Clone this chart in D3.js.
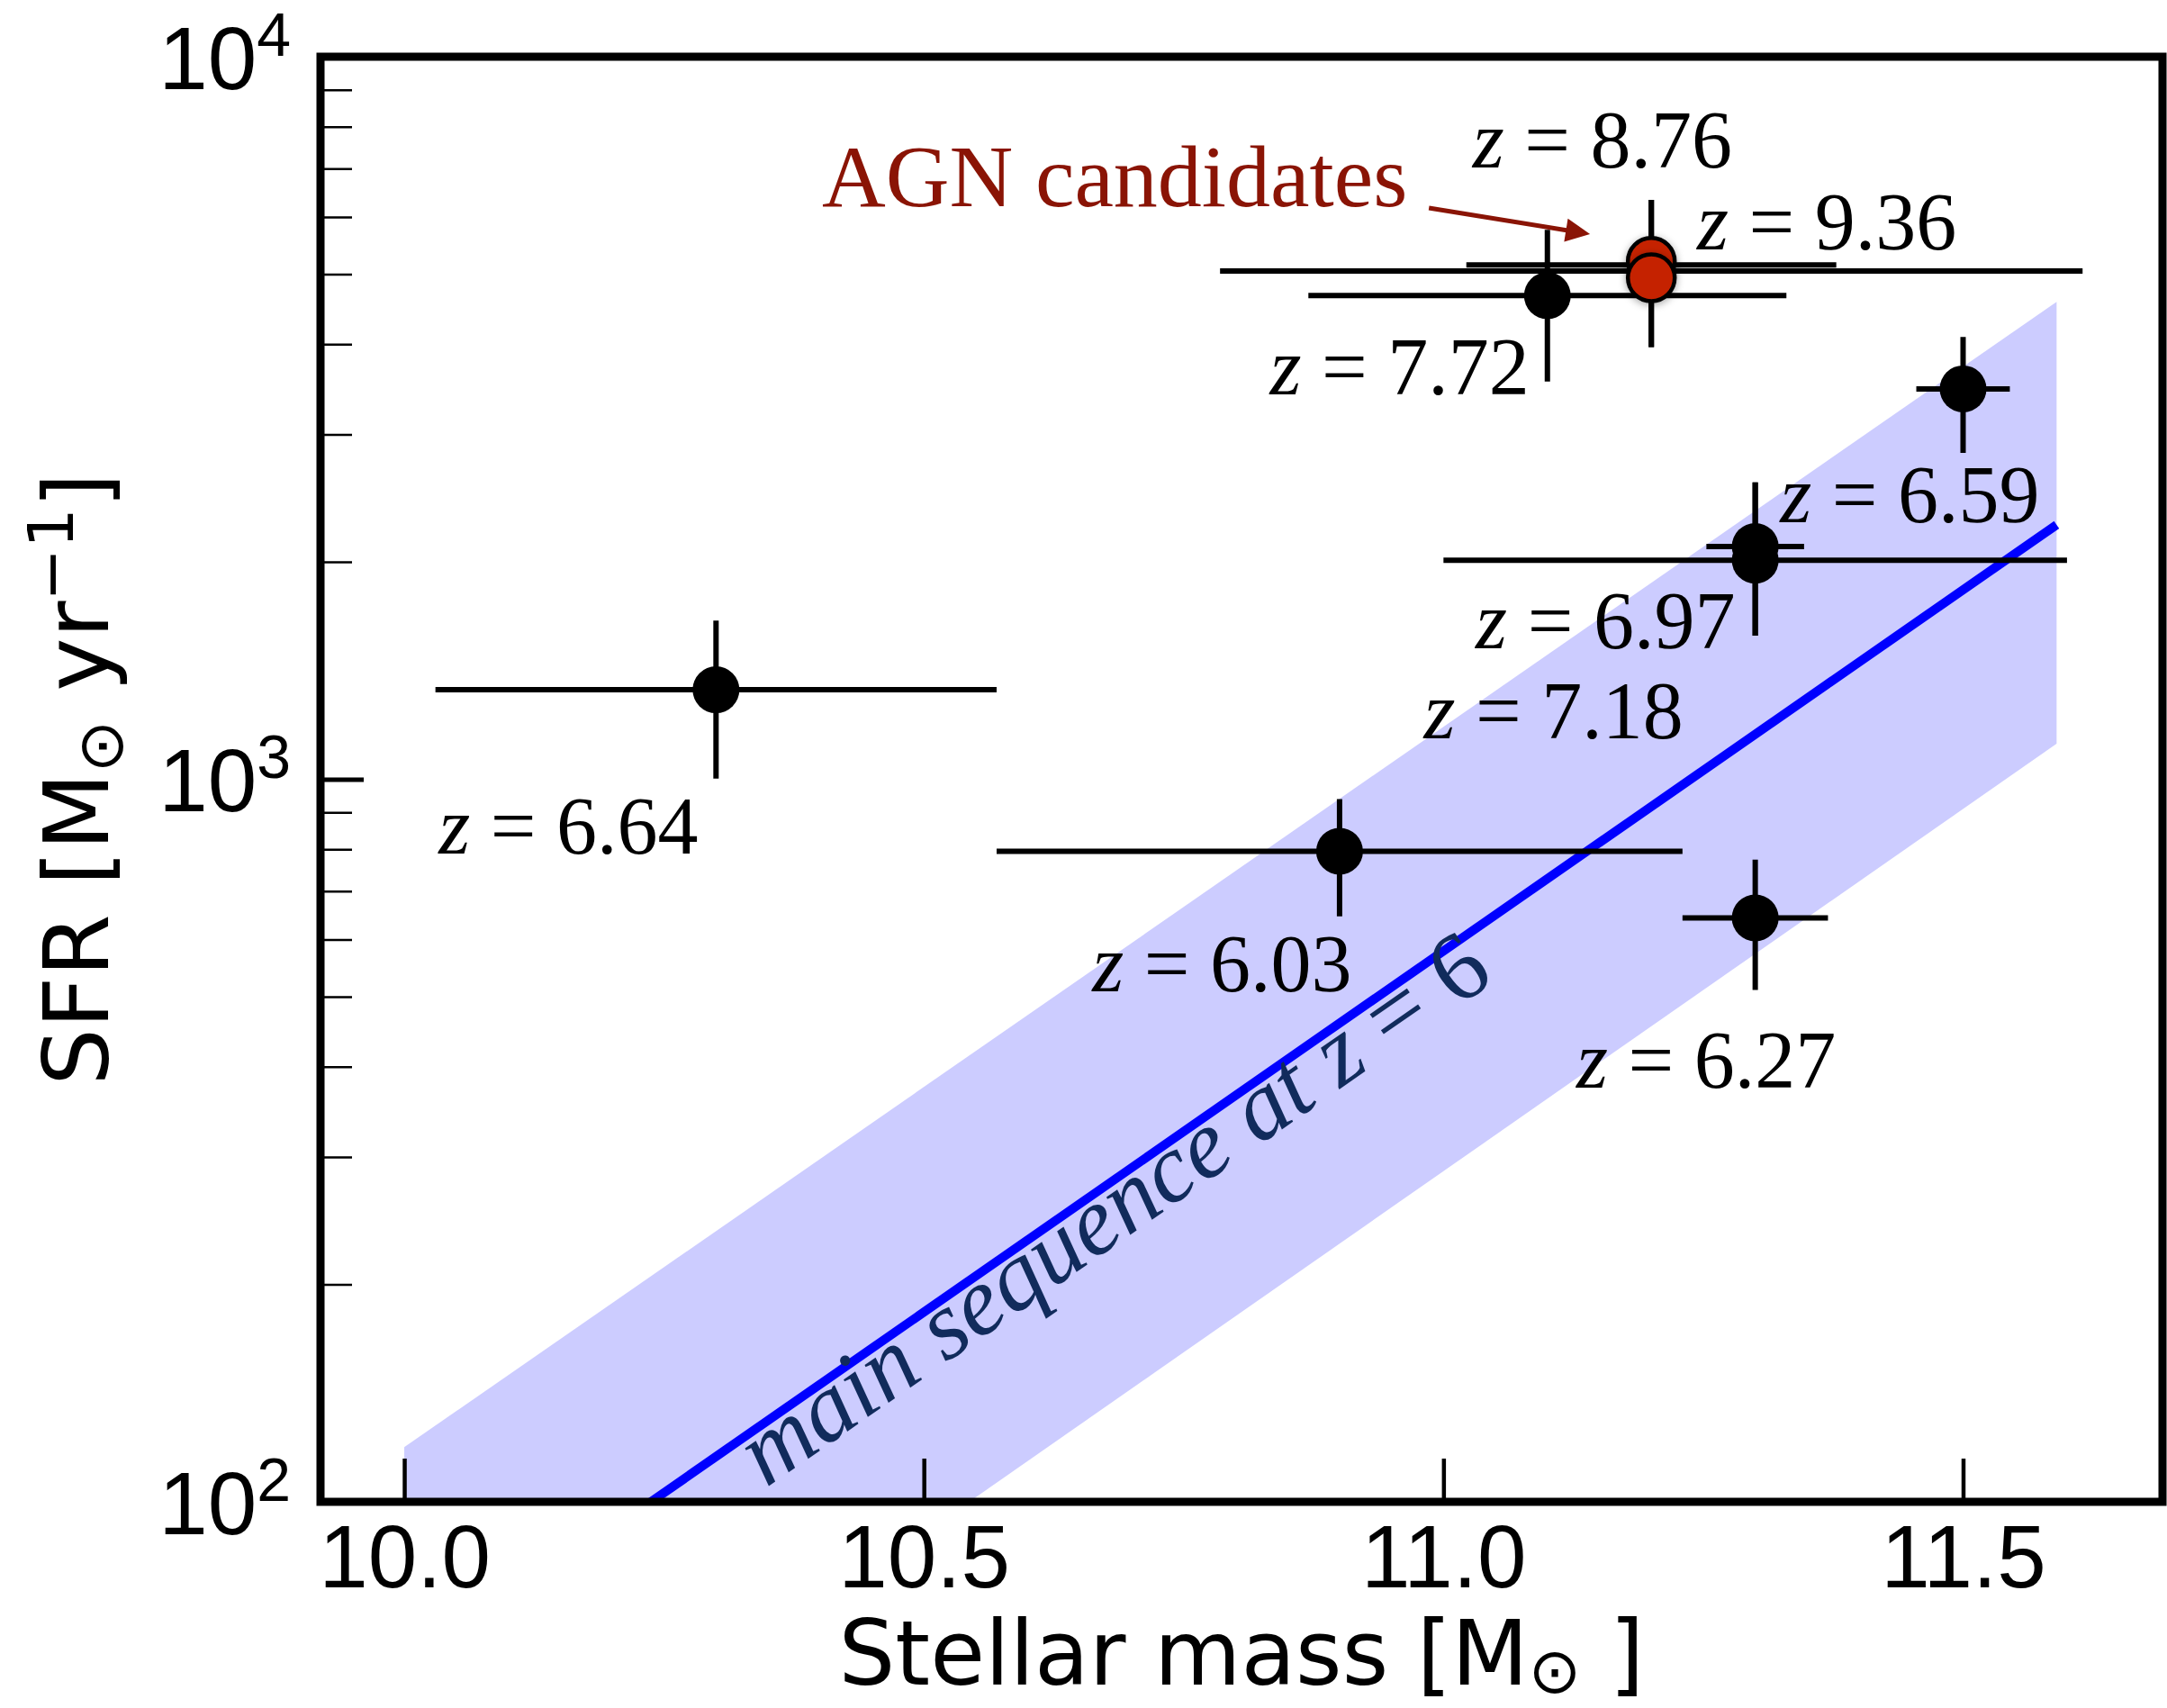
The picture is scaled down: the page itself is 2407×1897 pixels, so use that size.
<!DOCTYPE html>
<html>
<head>
<meta charset="utf-8">
<script src="https://cdn.jsdelivr.net/npm/d3@7"></script>
<style>
  html, body { margin: 0; padding: 0; background: #ffffff; }
  svg { display: block; }
  text { white-space: pre; }
</style>
</head>
<body>
<svg id="chart" width="2407" height="1897"></svg>
<script>
// ---- Galaxy measurements (one entry per source) ----
const redshiftLabels = ["6.64", "6.03", "6.27", "6.59", "6.97", "7.18", "7.72", "8.76", "9.36"];
const stellarMass    = [10.30, 10.90, 11.30, 11.30, 11.30, 11.50, 11.10, 11.20, 11.20];
const sfr            = [1330, 795, 643, 2100, 2010, 3470, 4670, 5150, 5050];
const markerSFR      = [1330, 795, 643, 2100, 2010, 3470, 4670, 5210, 4945];
const massErr        = [0.27, 0.33, 0.07, 0.047, 0.30, 0.045, 0.23, 0.178, 0.415];
const sfrLow         = [1002, 646, 511, 1580, 1580, 2830, 3553, 3963, 3963];
const sfrHigh        = [1658, 939, 774, 2575, 2575, 4093, 5759, 6339, 6339];
const isAGN          = [false, false, false, false, false, false, false, true, true];

// Where each redshift annotation sits (data coordinates of the text start)
const labelMass = [10.033, 10.662, 11.128, 11.324, 11.031, 10.981, 10.833, 11.028, 11.244];
const labelSFR  = [789, 509, 374, 2269, 1518, 1139, 3409, 7025, 5412];

// Main sequence at z = 6: centre line and its scatter band
const msMass = [10.0, 11.59];
const msSFR  = [57.9, 2250];
const msLow  = [28.5, 1120];
const msHigh = [119, 4580];

// Axis ticks
const xTicks = [10.0, 10.5, 11.0, 11.5];
const yMajor = [100, 1000, 10000];
const yMinor = [200, 300, 400, 500, 600, 700, 800, 900, 2000, 3000, 4000, 5000, 6000, 7000, 8000, 9000];

// AGN call-out
const agnText = "AGN candidates";
const agnTextAt = [10.402, 6210];
const agnArrowFrom = [10.986, 6176];
const agnArrowTo = [11.141, 5683];

// ---- Layout ----
const svg = d3.select("#chart");
const plot = { left: 356, right: 2402, top: 63, bottom: 1668 };

const x = d3.scaleLinear().domain([9.9194, 11.6919]).range([plot.left, plot.right]);
const y = d3.scaleLog().domain([100, 10000]).range([plot.bottom, plot.top]);

const defs = svg.append("defs");
defs.append("clipPath").attr("id", "plot-clip")
  .append("rect")
  .attr("x", plot.left).attr("y", plot.top)
  .attr("width", plot.right - plot.left).attr("height", plot.bottom - plot.top);

const shadow = defs.append("filter").attr("id", "soft-shadow")
  .attr("x", "-50%").attr("y", "-50%").attr("width", "200%").attr("height", "200%");
shadow.append("feDropShadow")
  .attr("dx", 0).attr("dy", 2).attr("stdDeviation", 4)
  .attr("flood-color", "#000").attr("flood-opacity", 0.35);

const inner = svg.append("g").attr("clip-path", "url(#plot-clip)");

// Scatter band of the main sequence
const band = msMass.map((m, i) => ({ m, lo: msLow[i], hi: msHigh[i] }));
inner.append("path")
  .datum(band)
  .attr("fill", "#ccccff")
  .attr("stroke", "none")
  .attr("d", d3.area().x(d => x(d.m)).y0(d => y(d.lo)).y1(d => y(d.hi)));

// Main sequence line
const msLine = msMass.map((m, i) => ({ m, s: msSFR[i] }));
inner.append("path")
  .datum(msLine)
  .attr("fill", "none")
  .attr("stroke", "#0000ff")
  .attr("stroke-width", 10)
  .attr("d", d3.line().x(d => x(d.m)).y(d => y(d.s)));

// Label running along (just below) the main sequence line
const msAngle = Math.atan2(y(msSFR[1]) - y(msSFR[0]), x(msMass[1]) - x(msMass[0])) * 180 / Math.PI;
const msLabelX = x(10.348), msLabelY = y(104.5);
const msText = svg.append("text")
  .attr("transform", `translate(${msLabelX},${msLabelY}) rotate(${msAngle})`)
  .attr("font-family", "'Liberation Serif', 'Times New Roman', serif")
  .attr("font-style", "italic")
  .attr("font-size", 108)
  .attr("fill", "#112b5c");
msText.append("tspan").text("main sequence at ");
msText.append("tspan").text("z");
msText.append("tspan").attr("font-style", "normal").text(" = 6");

// ---- Error bars ----
const points = stellarMass.map((m, i) => ({
  m, s: sfr[i], ms: markerSFR[i], dm: massErr[i], lo: sfrLow[i], hi: sfrHigh[i], agn: isAGN[i]
}));

const bars = svg.append("g").attr("stroke", "#000").attr("stroke-width", 6);
bars.selectAll("line.xerr").data(points).join("line")
  .attr("class", "xerr")
  .attr("x1", d => x(d.m - d.dm)).attr("x2", d => x(d.m + d.dm))
  .attr("y1", d => y(d.s)).attr("y2", d => y(d.s));
bars.selectAll("line.yerr").data(points).join("line")
  .attr("class", "yerr")
  .attr("x1", d => x(d.m)).attr("x2", d => x(d.m))
  .attr("y1", d => y(d.lo)).attr("y2", d => y(d.hi));

// ---- Markers ----
svg.append("g").selectAll("circle").data(points.filter(d => !d.agn)).join("circle")
  .attr("cx", d => x(d.m)).attr("cy", d => y(d.ms))
  .attr("r", 26)
  .attr("fill", "#000");

svg.append("g").selectAll("circle").data(points.filter(d => d.agn)).join("circle")
  .attr("cx", d => x(d.m)).attr("cy", d => y(d.ms))
  .attr("r", 26)
  .attr("fill", "#c52306")
  .attr("stroke", "#000")
  .attr("stroke-width", 4.5)
  .attr("filter", "url(#soft-shadow)");

// ---- Redshift annotations ----
const labels = svg.append("g")
  .attr("font-family", "'Liberation Serif', 'Times New Roman', serif")
  .attr("font-size", 90)
  .attr("fill", "#000");
redshiftLabels.forEach((z, i) => {
  const t = labels.append("text").attr("x", x(labelMass[i])).attr("y", y(labelSFR[i]));
  t.append("tspan").attr("font-style", "italic").text("z");
  t.append("tspan").text(" = " + z);
});

// ---- AGN call-out ----
const agnColor = "#8a1405";
svg.append("text")
  .attr("x", x(agnTextAt[0])).attr("y", y(agnTextAt[1]))
  .attr("font-family", "'Liberation Serif', 'Times New Roman', serif")
  .attr("font-size", 98)
  .attr("fill", agnColor)
  .text(agnText);

{
  const x0 = x(agnArrowFrom[0]), y0 = y(agnArrowFrom[1]);
  const x1 = x(agnArrowTo[0]), y1 = y(agnArrowTo[1]);
  const len = Math.hypot(x1 - x0, y1 - y0);
  const ux = (x1 - x0) / len, uy = (y1 - y0) / len;
  const headLen = 27, headHalf = 13;
  const bx = x1 - ux * headLen, by = y1 - uy * headLen;
  svg.append("line")
    .attr("x1", x0).attr("y1", y0).attr("x2", bx + ux * 2).attr("y2", by + uy * 2)
    .attr("stroke", agnColor).attr("stroke-width", 5);
  svg.append("path")
    .attr("fill", agnColor)
    .attr("d", `M${x1},${y1}L${bx - uy * headHalf},${by + ux * headHalf}L${bx + uy * headHalf},${by - ux * headHalf}Z`);
}

// ---- Axes ----
const tickFont = "'Liberation Sans', Arial, Helvetica, sans-serif";

const xAxis = svg.append("g")
  .attr("transform", `translate(0,${plot.bottom})`)
  .call(d3.axisBottom(x).tickValues(xTicks).tickSize(-48).tickFormat(d3.format(".1f")));
xAxis.select(".domain").remove();
xAxis.selectAll(".tick line").attr("stroke", "#000").attr("stroke-width", 4.5);
xAxis.selectAll(".tick text")
  .attr("font-family", tickFont).attr("font-size", 98).attr("fill", "#000")
  .attr("dy", null).attr("y", 95);

const yAxisMinor = svg.append("g")
  .attr("transform", `translate(${plot.left},0)`)
  .call(d3.axisLeft(y).tickValues(yMinor).tickSize(-35).tickFormat(() => ""));
yAxisMinor.select(".domain").remove();
yAxisMinor.selectAll(".tick line").attr("stroke", "#000").attr("stroke-width", 2.5);

const yAxisMajor = svg.append("g")
  .attr("transform", `translate(${plot.left},0)`)
  .call(d3.axisLeft(y).tickValues(yMajor).tickSize(-48));
yAxisMajor.select(".domain").remove();
yAxisMajor.selectAll(".tick line").attr("stroke", "#000").attr("stroke-width", 5);
yAxisMajor.selectAll(".tick text").each(function (d) {
  const t = d3.select(this);
  t.text(null)
    .attr("x", -33).attr("dy", null).attr("y", 35)
    .attr("font-family", tickFont).attr("font-size", 98).attr("fill", "#000");
  t.append("tspan").text("10");
  t.append("tspan").attr("font-size", 68).attr("dy", -37).text(Math.round(Math.log10(d)));
});

// Frame
svg.append("rect")
  .attr("x", plot.left).attr("y", plot.top)
  .attr("width", plot.right - plot.left).attr("height", plot.bottom - plot.top)
  .attr("fill", "none").attr("stroke", "#000").attr("stroke-width", 9);

// Axis titles
const titleFont = "'DejaVu Sans', Verdana, sans-serif";
const xTitle = svg.append("text")
  .attr("x", (plot.left + plot.right) / 2).attr("y", 1871)
  .attr("text-anchor", "middle")
  .attr("font-family", titleFont).attr("font-size", 99).attr("fill", "#000");
xTitle.append("tspan").text("Stellar mass [M");
xTitle.append("tspan").attr("font-size", 70).attr("dy", 9).text("\u2299");
xTitle.append("tspan").attr("dy", -9).text(" ]");

const yTitle = svg.append("text")
  .attr("transform", `translate(120,${(plot.top + plot.bottom) / 2}) rotate(-90)`)
  .attr("text-anchor", "middle")
  .attr("font-family", titleFont).attr("font-size", 100).attr("fill", "#000");
yTitle.append("tspan").text("SFR [M");
yTitle.append("tspan").attr("font-size", 70).attr("dy", 16).text("\u2299");
yTitle.append("tspan").attr("dy", -16).text(" yr");
yTitle.append("tspan").attr("font-size", 70).attr("dy", -39).text("\u22121");
yTitle.append("tspan").attr("dy", 39).text("]");
</script>
</body>
</html>
